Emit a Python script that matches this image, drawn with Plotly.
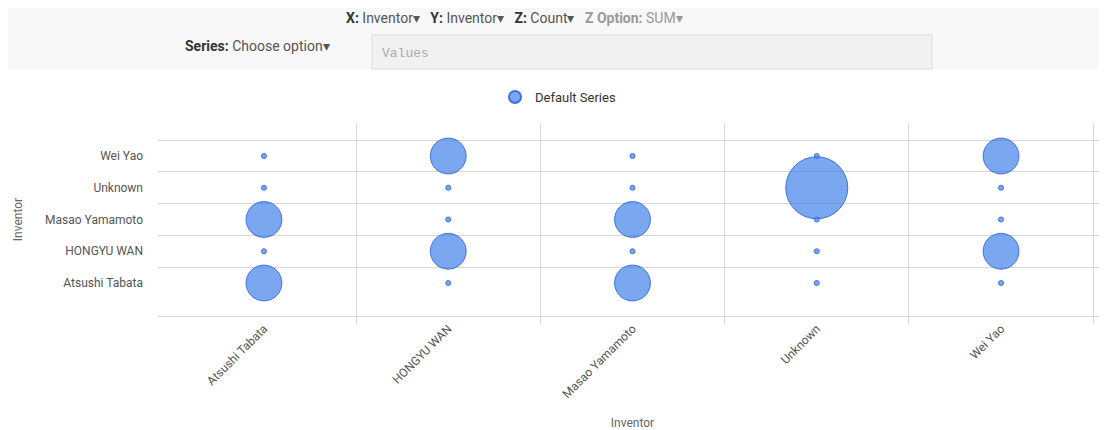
import plotly.graph_objects as go

# inventors on both axes (same order on x and y)
inventors = ["Atsushi Tabata", "HONGYU WAN", "Masao Yamamoto", "Unknown", "Wei Yao"]

# count per x inventor, listed in the y order above
count_atsushi = [1, 0, 1, 0, 0]
count_hongyu = [0, 1, 0, 0, 1]
count_masao = [1, 0, 1, 0, 0]
count_unknown = [0, 0, 0, 3, 0]
count_weiyao = [0, 1, 0, 0, 1]

columns = [count_atsushi, count_hongyu, count_masao, count_unknown, count_weiyao]

# page has an 8px body margin, so the figure starts at (8, 8)
OFF = 8
FW, FH = 1107 - OFF, 430 - OFF
# plot box in page pixels
L, T, W, H = 158, 123, 949, 193


def px_x(x):
    return (x - L) / W


def px_y(y):
    return 1 - (y - T) / H


xs, ys, zs = [], [], []
x0s, y0s = [], []
for i, col in enumerate(columns):
    for j, c in enumerate(col):
        if c > 0:
            xs.append(i); ys.append(j); zs.append(c)
        else:
            x0s.append(i); y0s.append(j)

fill = "rgba(60,125,235,0.68)"
edge = "rgb(62,114,222)"

fig = go.Figure()
fig.add_trace(go.Scatter(
    x=xs, y=ys, mode="markers", name="Default Series",
    marker=dict(size=zs, sizemode="area", sizeref=3 / 1922, color=fill, opacity=1,
                line=dict(color=edge, width=1)),
    hovertemplate="%{text}<extra></extra>", text=[str(z) for z in zs]))
fig.add_trace(go.Scatter(
    x=x0s, y=y0s, mode="markers", showlegend=False,
    marker=dict(size=5, color=fill, opacity=1, line=dict(color=edge, width=1)),
    hoverinfo="skip"))

grid = "#d6d6d6"
fig.update_xaxes(
    range=[-0.575, 4.575], tickmode="array", tickvals=list(range(5)), ticktext=inventors,
    tickangle=-45, showgrid=False, zeroline=False, showline=True, linecolor=grid,
    tickfont=dict(family="Roboto", size=12, color="#555"),
    minor=dict(tickmode="array", tickvals=[0.5, 1.5, 2.5, 3.5, 4.5], showgrid=True,
               gridcolor=grid, ticks="outside", ticklen=7, tickcolor=grid),
    title=dict(text="Inventor", font=dict(family="Roboto", size=12, color="#666"), standoff=19))
fig.update_yaxes(
    range=[-1.04, 5.04], tickmode="array", tickvals=list(range(5)), ticktext=inventors,
    showgrid=False, zeroline=False, ticklabelstandoff=14,
    tickfont=dict(family="Roboto", size=12, color="#555"),
    minor=dict(tickmode="array", tickvals=[0.5, 1.5, 2.5, 3.5, 4.5], showgrid=True,
               gridcolor=grid),
    title=dict(text="Inventor", font=dict(family="Roboto", size=12, color="#666"), standoff=19))

# header strip with the option controls
fig.add_shape(type="rect", xref="paper", yref="paper", x0=px_x(7), x1=px_x(1100),
              y0=px_y(70), y1=px_y(0), fillcolor="#f8f8f8", line=dict(width=0), layer="below")
fig.add_shape(type="rect", xref="paper", yref="paper", x0=px_x(372), x1=px_x(932),
              y0=px_y(69), y1=px_y(35), fillcolor="#f1f1f1", line=dict(color="#dddddd", width=1))

sp = "&nbsp;&nbsp;&nbsp;"
header = ("<b>X:</b> <span style='color:#555'>Inventor▾</span>" + sp +
          "<b>Y:</b> <span style='color:#555'>Inventor▾</span>" + sp +
          "<b>Z:</b> <span style='color:#555'>Count▾</span>" + sp +
          "<span style='color:#999'><b>Z Option:</b> SUM▾</span>")
fig.add_annotation(xref="paper", yref="paper", x=px_x(514), y=px_y(18), text=header,
                   showarrow=False, xanchor="center", yanchor="middle",
                   font=dict(family="Roboto", size=14, color="#333"))
fig.add_annotation(xref="paper", yref="paper", x=px_x(183), y=px_y(46),
                   text="<b>Series:</b> <span style='color:#555'>Choose option▾</span>",
                   showarrow=False, xanchor="left", yanchor="middle",
                   font=dict(family="Roboto", size=14, color="#333"))
fig.add_annotation(xref="paper", yref="paper", x=px_x(380), y=px_y(53), text="Values",
                   showarrow=False, xanchor="left", yanchor="middle",
                   font=dict(family="Liberation Mono", size=13, color="#aaa"))

fig.update_layout(
    width=FW, height=FH,
    margin=dict(l=L - OFF, r=FW - (L - OFF) - W, t=T - OFF, b=FH - (T - OFF) - H),
    paper_bgcolor="white", plot_bgcolor="white",
    font=dict(family="Roboto", color="#444"),
    legend=dict(orientation="h", x=px_x(558), y=px_y(97), xanchor="center", yanchor="middle",
                font=dict(family="Roboto", size=13, color="#333"), itemsizing="constant"),
)

fig.write_html("out.html")
